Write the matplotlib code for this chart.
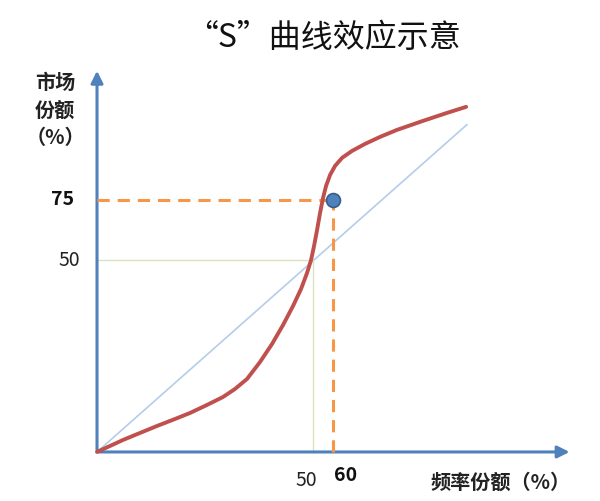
import numpy as np
import matplotlib.pyplot as plt

plt.rcParams['font.family'] = ['Noto Sans CJK SC', 'DejaVu Sans']

# S curve (schematic units)
curve_x = [0, 3.01, 6.02, 9.95, 13.89, 18.06, 21.53, 25.46, 29.17, 31.94,
           34.72, 37.73, 40.51, 43.06, 45.37, 47.22, 48.61, 49.54, 50.23,
           50.93, 51.62, 52.31, 53.01, 53.94, 55.09, 56.71, 59.03, 62.04,
           65.51, 69.44, 75.46, 81.02, 85.42]
curve_y = [0, 1.58, 3.16, 5.0, 6.84, 8.68, 10.26, 12.37, 14.47, 16.58,
           19.21, 23.68, 28.42, 33.42, 38.42, 42.89, 47.11, 50.53, 54.21,
           58.42, 62.89, 66.84, 70.0, 72.89, 75.26, 77.37, 79.21, 81.05,
           82.89, 84.74, 87.11, 89.21, 90.79]

# reference diagonal
diag_x = [0, 85.6]
diag_y = [0, 86.1]

# 50/50 crossing and highlighted point (schematic positions + labels)
mid_x, mid_y = 50.0, 50.5
point_x, point_y = 54.6, 66.3
mid_label_x, mid_label_y = "50", "50"
point_label_x, point_label_y = "60", "75"

fig = plt.figure(figsize=(6, 5.01), dpi=100)
ax = fig.add_axes([0, 0, 1, 1])
ax.set_xlim(-22.45, 116.4)
ax.set_ylim(-12.9, 118.9)
ax.axis('off')

blue = '#4F81BD'
orange = '#F79646'

# axes with arrows
ax.annotate('', xy=(110, 0), xytext=(-0.3, 0),
            arrowprops=dict(arrowstyle='-|>', color=blue, lw=2.2, mutation_scale=18))
ax.annotate('', xy=(0, 101), xytext=(0, -0.3),
            arrowprops=dict(arrowstyle='-|>', color=blue, lw=2.2, mutation_scale=18))

# diagonal
ax.plot(diag_x, diag_y, color='#B4CDEA', lw=1.2, zorder=2)

# 50 guides
ax.plot([0, mid_x], [mid_y, mid_y], color='#D7E4BD', lw=1.0, zorder=2)
ax.plot([mid_x, mid_x], [0, mid_y], color='#D7E4BD', lw=1.0, zorder=2)

# highlighted point guides
ax.plot([0, point_x], [point_y, point_y], color=orange, lw=2.2,
        dashes=(4, 2.6), zorder=3)
ax.plot([point_x, point_x], [0, point_y], color=orange, lw=2.2,
        dashes=(4, 2.6), zorder=3)

# S curve
ax.plot(curve_x, curve_y, color='#C0504D', lw=2.8, zorder=4,
        solid_capstyle='round', solid_joinstyle='round')

ax.plot(point_x, point_y, 'o', ms=10, mfc=blue, mec='#385D8A', mew=1.2, zorder=5)

# labels
ax.text(-7.9, point_y, point_label_y, ha='center', va='center', fontsize=14,
        fontweight='bold', color='#111111')
ax.text(-6.5, mid_y, mid_label_y, ha='center', va='center', fontsize=14,
        color='#222222')
ax.text(48.4, -7.4, mid_label_x, ha='center', va='center', fontsize=14,
        color='#222222')
ax.text(57.6, -6.3, point_label_x, ha='center', va='center', fontsize=14,
        fontweight='bold', color='#111111')

ax.text(-9.7, 90, '市场\n份额\n（%）', ha='center', va='center', fontsize=14.5,
        fontweight='bold', color='#222222', linespacing=1.4)
ax.text(93.3, -7.9, '频率份额（%）', ha='center', va='center', fontsize=14.5,
        fontweight='bold', color='#222222')

fig.text(0.54, 0.924, '“S”曲线效应示意', ha='center', va='center',
         fontsize=23, color='#111111')

fig.savefig('out.png', dpi=100)
